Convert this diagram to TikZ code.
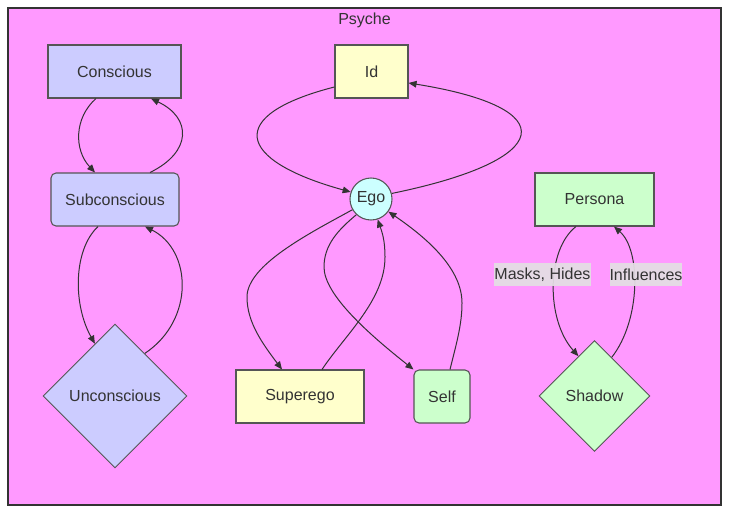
\documentclass[tikz,border=0pt]{standalone}
\usepackage{fontspec}
\setmainfont{Liberation Sans}
\usetikzlibrary{shapes.geometric,arrows.meta}
\definecolor{bgpink}{HTML}{FF99FF}
\definecolor{cblue}{HTML}{CCCCFF}
\definecolor{cyel}{HTML}{FFFFCC}
\definecolor{ccyan}{HTML}{CCFFFF}
\definecolor{cgreen}{HTML}{CCFFCC}
\definecolor{txt}{HTML}{333333}
\definecolor{nodestroke}{HTML}{555555}
\definecolor{framecol}{HTML}{333333}
\definecolor{lblbg}{HTML}{E4DEE4}
\begin{document}
\begin{tikzpicture}[x=0.75pt,y=-0.75pt,
  every node/.style={font=\fontsize{12pt}{14pt}\selectfont, text=txt},
  box/.style={draw=nodestroke, line width=0.8pt, rectangle, minimum height=39.75pt, inner sep=0pt},
  rbox/.style={box, rounded corners=3.75pt},
  dia/.style={draw=nodestroke, line width=0.7pt, diamond, aspect=1, inner sep=0pt},
  conn/.style={draw=txt, line width=0.75pt, -{Triangle[length=6pt,width=5pt]}},
  lbl/.style={fill=lblbg, fill opacity=0.93, text opacity=1, inner sep=0pt, minimum height=17.25pt}
]
\useasboundingbox (0,0) rectangle (737,519);
\fill[white] (0,0) rectangle (737,519);
\draw[fill=bgpink, draw=framecol, line width=1.5pt] (8,8) rectangle (721,505);
\node (title) at (364.5,20.5) {Psyche};

\node[box, fill=cblue, minimum width=99.75pt] (conscious) at (114.5,71.5) {Conscious};
\node[rbox, fill=cblue, minimum width=96pt] (subconscious) at (115,199.5) {Subconscious};
\node[dia, fill=cblue, minimum width=108pt, minimum height=108pt] (unconscious) at (115,396) {Unconscious};
\node[box, fill=cyel, minimum width=54.75pt] (id) at (371.5,71.5) {Id};
\node[circle, draw=nodestroke, line width=0.8pt, fill=ccyan, minimum size=31.5pt, inner sep=0pt] (ego) at (371,199) {Ego};
\node[box, fill=cyel, minimum width=96pt] (superego) at (300,396.5) {Superego};
\node[rbox, fill=cgreen, minimum width=42pt] (self) at (442,396.5) {Self};
\node[box, fill=cgreen, minimum width=89.25pt] (persona) at (594.5,199.5) {Persona};
\node[dia, fill=cgreen, minimum width=83.25pt, minimum height=83.25pt] (shadow) at (594.5,396) {Shadow};

\draw[conn] ([xshift=-13.9pt]conscious.south) .. controls (74,118) and (74,150) .. ([xshift=-15pt]subconscious.north);
\draw[conn] ([xshift=26.25pt]subconscious.north) .. controls (192,152) and (192,118) .. ([xshift=27.4pt]conscious.south);
\draw[conn] ([xshift=-12.75pt]subconscious.south) .. controls (73,250) and (73,305) .. (unconscious.111);
\draw[conn] (unconscious.55) .. controls (195,320) and (192,250) .. ([xshift=22.5pt]subconscious.south);
\draw[conn] ([yshift=-11.6pt]id.west) .. controls (225,115) and (235,160) .. (ego.161);
\draw[conn] (ego.15) .. controls (555,160) and (565,108) .. ([yshift=-8.6pt]id.east);
\draw[conn] (ego.210) .. controls (310,233) and (247,265) .. (247,297) .. controls (247,322) and (262,343) .. ([xshift=-13.5pt]superego.north);
\draw[conn] ([xshift=16.5pt]superego.north) .. controls (345,335) and (385,300) .. (385,257) .. controls (385,240) and (382,232) .. (ego.288);
\draw[conn] (ego.227) .. controls (338,230) and (324,245) .. (324,267) .. controls (324,295) and (370,335) .. (self.north west);
\draw[conn] ([xshift=6pt]self.north) .. controls (456,345) and (462,325) .. (462,303) .. controls (462,270) and (430,240) .. (ego.324);
\draw[conn] ([xshift=-13.9pt]persona.south) .. controls (546,250) and (546,320) .. (shadow.112);
\draw[conn] (shadow.66) .. controls (641,320) and (641,250) .. ([xshift=14.6pt]persona.south);

\node[lbl, minimum width=71.25pt] (lmask) at (542.5,274.5) {Masks, Hides};
\node[lbl, minimum width=54pt] (linf) at (646,274.5) {Influences};
\end{tikzpicture}
\end{document}
